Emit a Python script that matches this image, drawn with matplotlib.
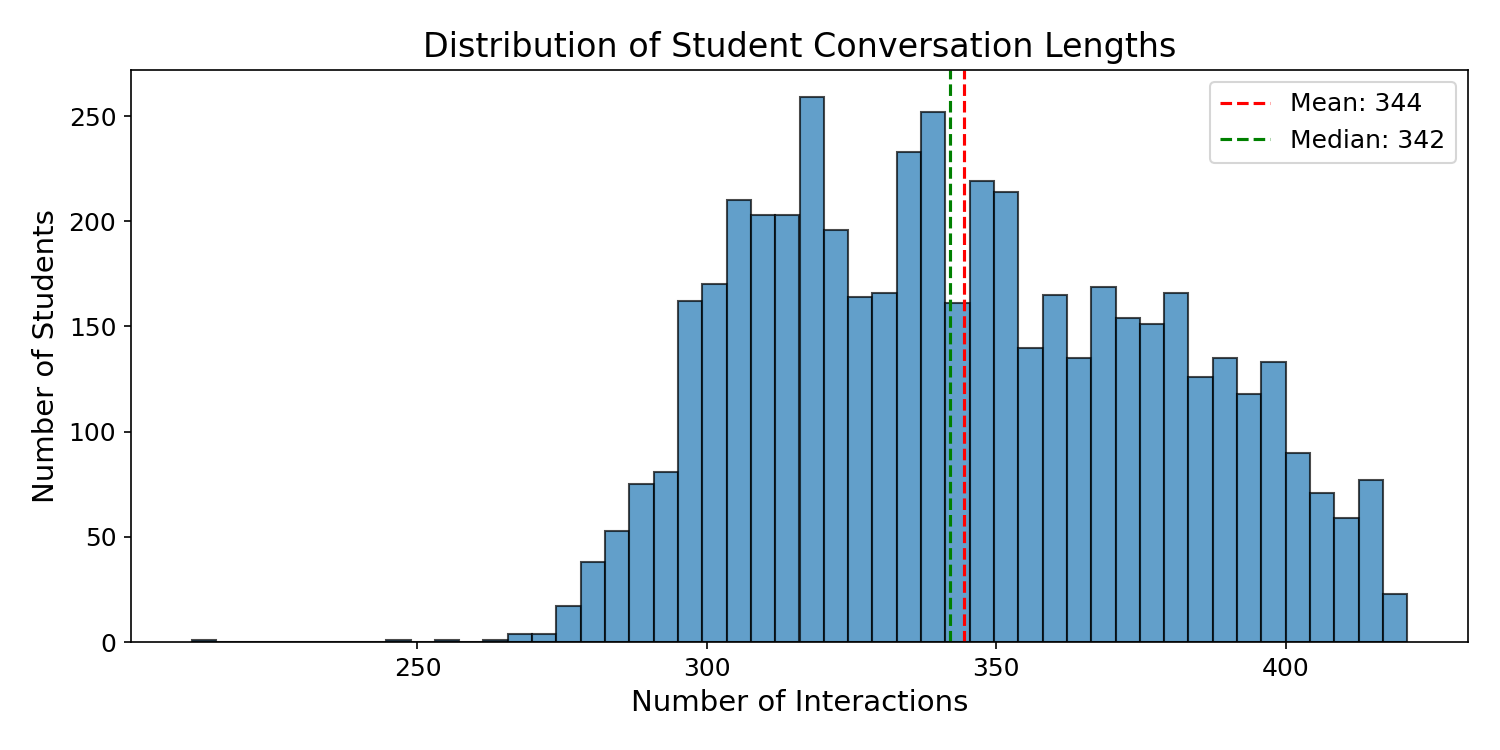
import numpy as np
import matplotlib
matplotlib.use("Agg")
import matplotlib.pyplot as plt

# Histogram: 50 bins from 211 to 421 interactions
bin_start = 211
bin_end = 421
n_bins = 50
counts = [1, 0, 0, 0, 0, 0, 0, 0, 1, 0,
          1, 0, 1, 4, 4, 17, 38, 53, 75, 81,
          162, 170, 210, 203, 203, 259, 196, 164, 166, 233,
          252, 161, 219, 214, 140, 165, 135, 169, 154, 151,
          166, 126, 135, 118, 133, 90, 71, 59, 77, 23]
mean_val = 344.4
median_val = 342.0

edges = np.linspace(bin_start, bin_end, n_bins + 1)
centers = (edges[:-1] + edges[1:]) / 2

fig, ax = plt.subplots(figsize=(10, 5), dpi=150)
fig.subplots_adjust(left=0.0873, right=0.9787, top=0.9067, bottom=0.144)

ax.hist(centers, bins=edges, weights=counts, color='#1f77b4', alpha=0.7, edgecolor='black')
ax.axvline(mean_val, color='red', linestyle='--', label=f'Mean: {mean_val:.0f}')
ax.axvline(median_val, color='green', linestyle='--', label=f'Median: {median_val:.0f}')

ax.set_title('Distribution of Student Conversation Lengths', fontsize=16)
ax.set_xlabel('Number of Interactions', fontsize=14)
ax.set_ylabel('Number of Students', fontsize=14)
ax.tick_params(labelsize=12)
ax.legend(fontsize=12, loc='upper right')

fig.savefig('out.png', dpi=150)
